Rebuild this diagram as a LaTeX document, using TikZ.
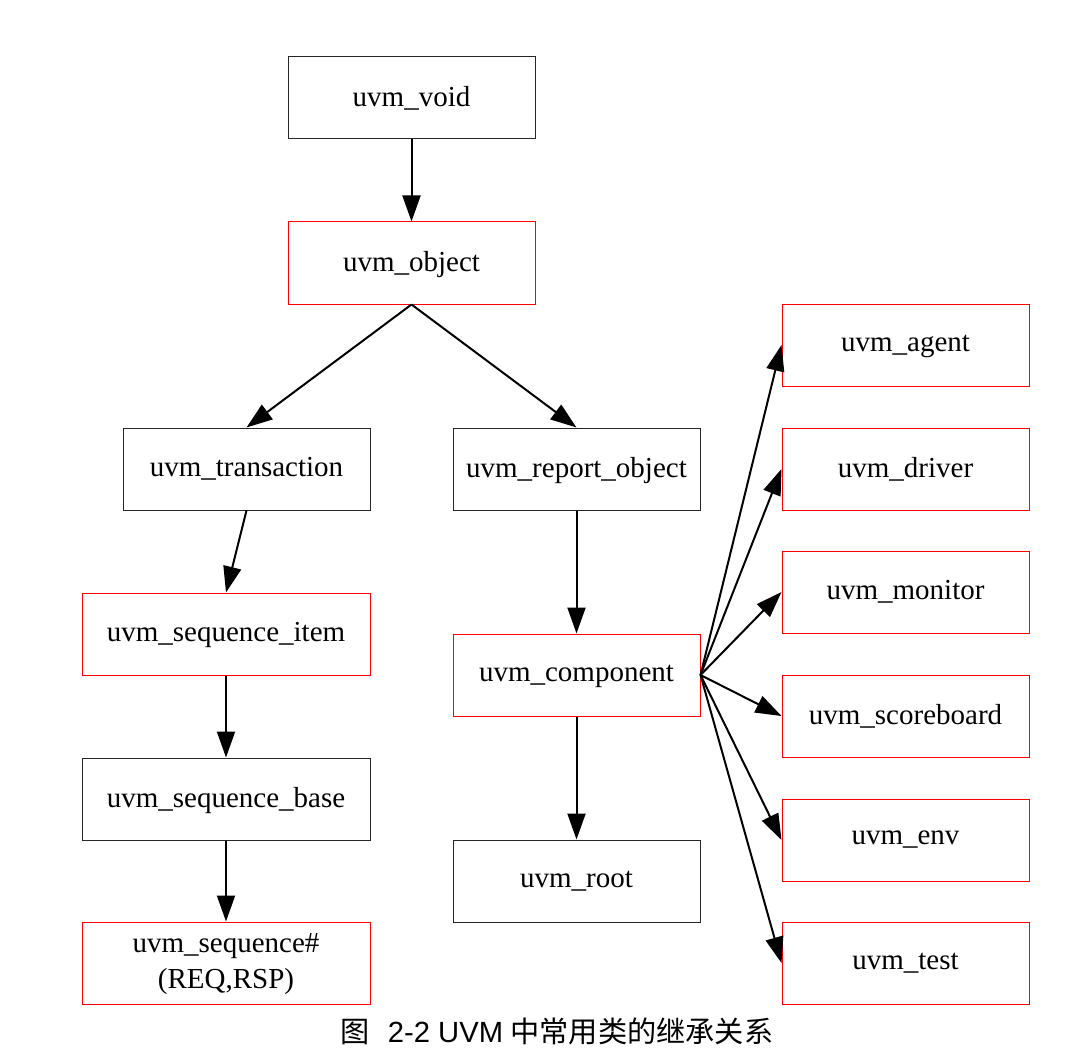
\documentclass[tikz,border=0pt]{standalone}
\usepackage{fontspec}
\setmainfont{Liberation Serif}
\setsansfont{Liberation Sans}
\newfontfamily\cjk{Noto Sans CJK SC}
\usetikzlibrary{arrows.meta}
\begin{document}
\begin{tikzpicture}[x=0.5pt, y=-0.5pt]
        \tikzstyle{cls} = [draw=black!85, line width=0.5pt, minimum width=123.5pt, minimum height=41pt, inner sep=2pt, font=\fontsize{14.5}{18}\selectfont, align=center, text depth=2pt]
        \tikzstyle{redcls} = [cls, draw=red]
        \tikzstyle{wide} = [minimum width=144pt]
        \tikzstyle{blk} = [draw, black, line width=1pt, -{Triangle[length=13pt, width=9pt]}]

        \useasboundingbox (0, 0) rectangle (1086, 1064);

        \node[cls] (void) at (411.5, 98) {uvm\_void};
        \node[redcls] (object) at (411.5, 263) {uvm\_object};
        \node[cls] (transaction) at (246.5, 469) {uvm\_transaction};
        \node[cls] (report object) at (576.5, 469) {uvm\_report\_object};
        \node[redcls, wide] (sequence item) at (226, 634) {uvm\_sequence\_item};
        \node[cls, wide] (sequence base) at (226, 799) {uvm\_sequence\_base};
        \node[redcls, wide] (sequence) at (226, 963) {uvm\_sequence\#\\(REQ,RSP)};
        \node[redcls] (component) at (576.5, 675) {uvm\_component};
        \node[cls] (root) at (576.5, 881) {uvm\_root};
        \node[redcls] (agent) at (905.5, 345) {uvm\_agent};
        \node[redcls] (driver) at (905.5, 469) {uvm\_driver};
        \node[redcls] (monitor) at (905.5, 592) {uvm\_monitor};
        \node[redcls] (scoreboard) at (905.5, 716) {uvm\_scoreboard};
        \node[redcls] (env) at (905.5, 840) {uvm\_env};
        \node[redcls] (test) at (905.5, 963) {uvm\_test};
        \node[font=\fontsize{14.6}{16}\selectfont] (caption) at (557, 1031) {{\cjk 图}\hspace{9pt}{\sffamily 2-2 UVM} {\cjk 中常用类的继承关系}};

        \path[blk] (void) to (object);
        \path[blk] (object.south) to (transaction.north);
        \path[blk] (object.south) to (report object.north);
        \path[blk] (transaction.south) to (sequence item.north);
        \path[blk] (sequence item) to (sequence base);
        \path[blk] (sequence base) to (sequence);
        \path[blk] (report object) to (component);
        \path[blk] (component) to (root);
        \path[blk] (component.east) to (agent.west);
        \path[blk] (component.east) to (driver.west);
        \path[blk] (component.east) to (monitor.west);
        \path[blk] (component.east) to (scoreboard.west);
        \path[blk] (component.east) to (env.west);
        \path[blk] (component.east) to (test.west);
    \end{tikzpicture}
\end{document}
